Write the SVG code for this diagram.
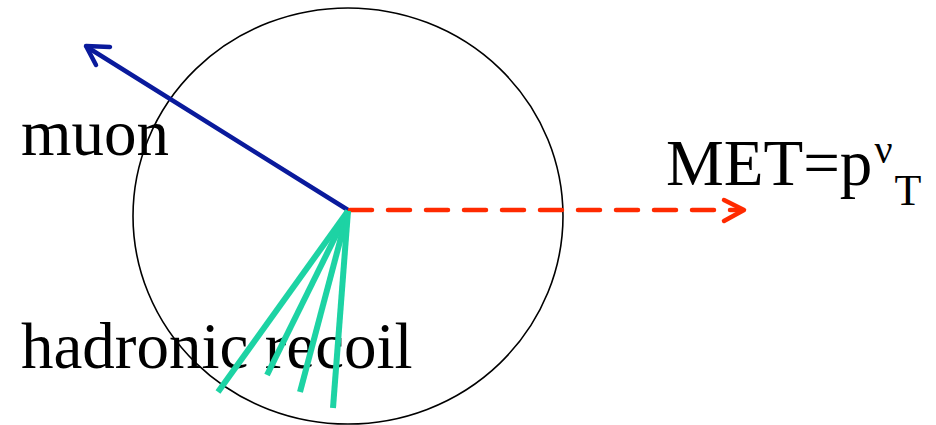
<svg xmlns="http://www.w3.org/2000/svg" width="936" height="425" viewBox="0 0 936 425">
<style>
.muon{stroke:#0a1a9c;stroke-width:4.5;fill:none;stroke-linecap:round;stroke-linejoin:round}
.met{stroke:#ff2a00;stroke-width:4.5;fill:none;stroke-linejoin:round;stroke-linecap:round}
.had{stroke:#1dd3a4;stroke-width:6;fill:none}
</style>
<rect width="936" height="425" fill="#fff"/>
<g id="detector"><ellipse cx="348" cy="216" rx="215" ry="208" fill="none" stroke="#000" stroke-width="1.6"/></g>
<g id="labels">
<text font-family="Liberation Serif" font-size="65" x="21" y="155">muon</text>
<text font-family="Liberation Serif" font-size="65" x="21" y="368">hadronic recoil</text>
<text font-family="Liberation Serif" font-size="65" x="666" y="185">MET=p<tspan font-size="40" dx="2" dy="-22">ν</tspan><tspan font-size="44" dx="2" dy="42">T</tspan></text>
</g>
<g id="connectors">
<g id="muon-arrow">
<line class="muon" x1="348" y1="210" x2="87" y2="47"/>
<polyline class="muon" points="110,47 86,46 96,65"/>
</g>
<g id="met-arrow">
<line class="met" x1="350" y1="210" x2="740" y2="210" stroke-dasharray="22,16" stroke-linecap="butt"/>
<polyline class="met" points="724,200 744,210 724,221"/>
</g>
<g id="hadronic-jets">
<line class="had" x1="348" y1="211" x2="218" y2="392"/>
<line class="had" x1="348" y1="211" x2="267" y2="375"/>
<line class="had" x1="348" y1="211" x2="300" y2="392"/>
<line class="had" x1="348" y1="211" x2="333" y2="408"/>
</g>
</g>
</svg>
